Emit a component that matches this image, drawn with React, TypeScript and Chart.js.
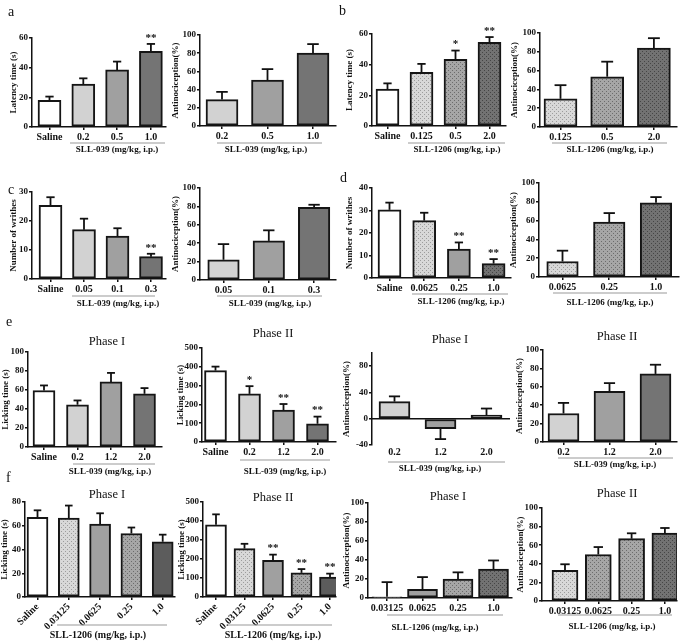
import React, { useEffect, useRef } from "react";
import { Chart, registerables } from "chart.js";
Chart.register(...registerables);

const SERIF = '"Liberation Serif","Times New Roman",Times,serif';

// ---------------- data ----------------
const G039 = "SLL-039 (mg/kg, i.p.)";
const G1206 = "SLL-1206 (mg/kg, i.p.)";
const Y_LAT = "Latency time (s)";
const Y_ANTI = "Antinociception(%)";
const Y_WRI = "Number of writhes";
const Y_LICK = "Licking time (s)";

const a1Labels = ["Saline", "0.2", "0.5", "1.0"];
const a1Values = [18, 29, 38.5, 51];
const a1Errors = [2.5, 3.8, 5.6, 5];
const a1Stars = ["", "", "", "**"];

const a2Labels = ["0.2", "0.5", "1.0"];
const a2Values = [29, 50.5, 80];
const a2Errors = [8.5, 12, 10];

const b1Labels = ["Saline", "0.125", "0.5", "2.0"];
const b1Values = [24, 35, 43.5, 54.5];
const b1Errors = [3.8, 5.5, 5.7, 3.5];
const b1Stars = ["", "", "*", "**"];

const b2Labels = ["0.125", "0.5", "2.0"];
const b2Values = [30, 53.5, 84];
const b2Errors = [14.5, 16, 10.5];

const c1Labels = ["Saline", "0.05", "0.1", "0.3"];
const c1Values = [25.4, 17, 14.8, 7.7];
const c1Errors = [2.8, 3.8, 2.7, 1];
const c1Stars = ["", "", "", "**"];

const c2Labels = ["0.05", "0.1", "0.3"];
const c2Values = [22, 42.5, 79];
const c2Errors = [17, 11.5, 2.8];

const d1Labels = ["Saline", "0.0625", "0.25", "1.0"];
const d1Values = [30.3, 25.5, 12.8, 6.4];
const d1Errors = [3.2, 3.5, 3, 2];
const d1Stars = ["", "", "**", "**"];

const d2Labels = ["0.0625", "0.25", "1.0"];
const d2Values = [16.5, 58.5, 79];
const d2Errors = [11.5, 9.5, 6];

const e1Labels = ["Saline", "0.2", "1.2", "2.0"];
const e1Values = [59.5, 44.5, 68.5, 56];
const e1Errors = [5.3, 4.5, 9.5, 6];

const e2Labels = ["Saline", "0.2", "1.2", "2.0"];
const e2Values = [380, 256, 170, 97];
const e2Errors = [21, 41, 32, 38];
const e2Stars = ["", "*", "**", "**"];

const e3Labels = ["0.2", "1.2", "2.0"];
const e3Values = [26, -15, 5.5];
const e3Errors = [8, 16, 10];

const e4Labels = ["0.2", "1.2", "2.0"];
const e4Values = [31, 55, 74];
const e4Errors = [11.5, 9, 10];

const f1Labels = ["Saline", "0.03125", "0.0625", "0.25", "1.0"];
const f1Values = [67, 66.5, 61.5, 53.5, 46.5];
const f1Errors = [6, 10.5, 9, 5, 6];

const f2Labels = ["Saline", "0.03125", "0.0625", "0.25", "1.0"];
const f2Values = [380, 255, 193, 127, 105];
const f2Errors = [55, 25, 30, 20, 18];
const f2Stars = ["", "", "**", "**", "**"];

const f3Labels = ["0.03125", "0.0625", "0.25", "1.0"];
const f3Values = [1.2, 9, 20, 30.5];
const f3Errors = [15.5, 13, 7, 9];

const f4Labels = ["0.03125", "0.0625", "0.25", "1.0"];
const f4Values = [33, 50, 67, 73];
const f4Errors = [6.5, 8, 5.8, 5.5];

// ---------------- layout / style ----------------
type L = {
  ax: number; rx: number; ty: number; by: number; c0: number; s: number; bw: number;
  ytX: number; ulY: number; ul1: number; ul2: number; gX: number; gY: number; gF: number;
  tX?: number; tY?: number; rot?: number;
};
type P = {
  key: string; labels: string[]; values: number[]; errors: number[]; stars: string[];
  yMin: number; yMax: number; yStep: number; yTitle: string; group: string; title?: string;
  fills: string[]; L: L;
};

const panels: P[] = [
  { key: "a1", labels: a1Labels, values: a1Values, errors: a1Errors, stars: a1Stars, yMin: 0, yMax: 60, yStep: 20, yTitle: Y_LAT, group: G039,
    fills: ["white", "light", "mid", "dark"],
    L: { ax: 32, rx: 166, ty: 38, by: 127, c0: 49.5, s: 33.8, bw: 23, ytX: 14, ulY: 143, ul1: 70, ul2: 165, gX: 117, gY: 150, gF: 9 } },
  { key: "a2", labels: a2Labels, values: a2Values, errors: a2Errors, stars: [], yMin: 0, yMax: 100, yStep: 20, yTitle: Y_ANTI, group: G039,
    fills: ["light", "mid", "dark"],
    L: { ax: 200, rx: 336, ty: 35, by: 126, c0: 222, s: 45.5, bw: 32, ytX: 176, ulY: 143, ul1: 217, ul2: 322, gX: 266, gY: 150, gF: 9 } },
  { key: "b1", labels: b1Labels, values: b1Values, errors: b1Errors, stars: b1Stars, yMin: 0, yMax: 60, yStep: 20, yTitle: Y_LAT, group: G1206,
    fills: ["white", "lightDot", "midDot", "darkDot"],
    L: { ax: 372, rx: 506, ty: 34, by: 126, c0: 387.5, s: 34, bw: 23, ytX: 350, ulY: 143, ul1: 408, ul2: 505, gX: 457, gY: 150, gF: 9 } },
  { key: "b2", labels: b2Labels, values: b2Values, errors: b2Errors, stars: [], yMin: 0, yMax: 100, yStep: 20, yTitle: Y_ANTI, group: G1206,
    fills: ["lightDot", "midDot", "darkDot"],
    L: { ax: 540, rx: 677, ty: 33, by: 127, c0: 560.5, s: 46.7, bw: 33, ytX: 515, ulY: 143, ul1: 552, ul2: 667, gX: 610, gY: 150, gF: 9 } },
  { key: "c1", labels: c1Labels, values: c1Values, errors: c1Errors, stars: c1Stars, yMin: 0, yMax: 30, yStep: 10, yTitle: Y_WRI, group: G039,
    fills: ["white", "light", "mid", "dark"],
    L: { ax: 32, rx: 166, ty: 192, by: 279, c0: 50.5, s: 33.5, bw: 23, ytX: 14, ulY: 296, ul1: 72, ul2: 155, gX: 118, gY: 304, gF: 9 } },
  { key: "c2", labels: c2Labels, values: c2Values, errors: c2Errors, stars: [], yMin: 0, yMax: 100, yStep: 20, yTitle: Y_ANTI, group: G039,
    fills: ["light", "mid", "dark"],
    L: { ax: 200, rx: 336, ty: 188, by: 280, c0: 223.5, s: 45.3, bw: 31.5, ytX: 176, ulY: 296, ul1: 217, ul2: 322, gX: 270, gY: 304, gF: 9 } },
  { key: "d1", labels: d1Labels, values: d1Values, errors: d1Errors, stars: d1Stars, yMin: 0, yMax: 40, yStep: 10, yTitle: Y_WRI, group: G1206,
    fills: ["white", "lightDot", "mid", "darkDot"],
    L: { ax: 372, rx: 511, ty: 188, by: 278, c0: 389.5, s: 34.7, bw: 23, ytX: 350, ulY: 294, ul1: 412, ul2: 508, gX: 461, gY: 302, gF: 9 } },
  { key: "d2", labels: d2Labels, values: d2Values, errors: d2Errors, stars: [], yMin: 0, yMax: 100, yStep: 20, yTitle: Y_ANTI, group: G1206,
    fills: ["lightDot", "midDot", "darkDot"],
    L: { ax: 539, rx: 679, ty: 183, by: 277, c0: 562.5, s: 46.75, bw: 31.5, ytX: 514, ulY: 293, ul1: 553, ul2: 667, gX: 610, gY: 303, gF: 9 } },
  { key: "e1", labels: e1Labels, values: e1Values, errors: e1Errors, stars: [], yMin: 0, yMax: 100, yStep: 20, yTitle: Y_LICK, group: G039, title: "Phase I",
    fills: ["white", "light", "mid", "dark"],
    L: { ax: 28, rx: 162, ty: 352, by: 447, c0: 44, s: 33.5, bw: 22, ytX: 6, ulY: 464, ul1: 73, ul2: 155, gX: 110, gY: 472, gF: 9, tX: 107, tY: 342 } },
  { key: "e2", labels: e2Labels, values: e2Values, errors: e2Errors, stars: e2Stars, yMin: 0, yMax: 500, yStep: 100, yTitle: Y_LICK, group: G039, title: "Phase II",
    fills: ["white", "light", "mid", "dark"],
    L: { ax: 202, rx: 336, ty: 348, by: 442, c0: 215.5, s: 34, bw: 22, ytX: 181, ulY: 460, ul1: 240, ul2: 330, gX: 285, gY: 472, gF: 9, tX: 273, tY: 334 } },
  { key: "e3", labels: e3Labels, values: e3Values, errors: e3Errors, stars: [], yMin: -40, yMax: 100, yStep: 20, yTitle: Y_ANTI, group: G039, title: "Phase I",
    fills: ["light", "mid", "dark"],
    L: { ax: 372, rx: 510, ty: 353, by: 445, c0: 394.5, s: 46, bw: 31, ytX: 347, ulY: 462, ul1: 388, ul2: 505, gX: 440, gY: 469, gF: 9, tX: 450, tY: 340 } },
  { key: "e4", labels: e4Labels, values: e4Values, errors: e4Errors, stars: [], yMin: 0, yMax: 100, yStep: 20, yTitle: Y_ANTI, group: G039, title: "Phase II",
    fills: ["light", "mid", "dark"],
    L: { ax: 543, rx: 677, ty: 350, by: 442, c0: 563.5, s: 46, bw: 31, ytX: 520, ulY: 458, ul1: 558, ul2: 673, gX: 615, gY: 465, gF: 9, tX: 617, tY: 337 } },
  { key: "f1", labels: f1Labels, values: f1Values, errors: f1Errors, stars: [], yMin: 0, yMax: 80, yStep: 20, yTitle: Y_LICK, group: G1206, title: "Phase I",
    fills: ["white", "lightDot", "mid", "midDot", "darker"],
    L: { ax: 25, rx: 175, ty: 502, by: 597, c0: 37.5, s: 31.3, bw: 21, ytX: 5, ulY: 625, ul1: 57, ul2: 167, gX: 98, gY: 635, gF: 10, tX: 107, tY: 495, rot: 45 } },
  { key: "f2", labels: f2Labels, values: f2Values, errors: f2Errors, stars: f2Stars, yMin: 0, yMax: 500, yStep: 100, yTitle: Y_LICK, group: G1206, title: "Phase II",
    fills: ["white", "lightDot", "mid", "midDot", "darker"],
    L: { ax: 203, rx: 336, ty: 502, by: 597, c0: 216, s: 28.5, bw: 21, ytX: 182, ulY: 625, ul1: 227, ul2: 332, gX: 273, gY: 635, gF: 10, tX: 273, tY: 498, rot: 45 } },
  { key: "f3", labels: f3Labels, values: f3Values, errors: f3Errors, stars: [], yMin: 0, yMax: 100, yStep: 20, yTitle: Y_ANTI, group: G1206, title: "Phase I",
    fills: ["lightDot", "mid", "midDot", "darkDot"],
    L: { ax: 368, rx: 512, ty: 503, by: 598, c0: 387, s: 35.5, bw: 30, ytX: 347, ulY: 615, ul1: 387, ul2: 503, gX: 435, gY: 628, gF: 9, tX: 448, tY: 497 } },
  { key: "f4", labels: f4Labels, values: f4Values, errors: f4Errors, stars: [], yMin: 0, yMax: 100, yStep: 20, yTitle: Y_ANTI, group: G1206, title: "Phase II",
    fills: ["lightDot", "midDot", "midDot", "darkDot"],
    L: { ax: 542, rx: 677, ty: 508, by: 601, c0: 565, s: 33.3, bw: 26, ytX: 521, ulY: 615, ul1: 558, ul2: 672, gX: 612, gY: 627, gF: 9, tX: 617, tY: 494 } },
];

const letters = [
  { t: "a", x: 8, y: 12 },
  { t: "b", x: 339, y: 11 },
  { t: "c", x: 8, y: 190 },
  { t: "d", x: 340, y: 178 },
  { t: "e", x: 6, y: 322 },
  { t: "f", x: 6, y: 478 },
];

function dotPattern(base: string, dot: string): any {
  const c = document.createElement("canvas");
  c.width = 4; c.height = 4;
  const g = c.getContext("2d")!;
  g.fillStyle = base; g.fillRect(0, 0, 4, 4);
  g.fillStyle = dot; g.fillRect(0, 0, 1, 1); g.fillRect(2, 2, 1, 1);
  return g.createPattern(c, "repeat");
}

let fillCache: Record<string, any> | null = null;
function getFills() {
  if (!fillCache) {
    fillCache = {
      white: "#ffffff",
      light: "#d2d2d2",
      mid: "#a0a0a0",
      dark: "#747474",
      darker: "#5c5c5c",
      lightDot: dotPattern("#d8d8d8", "#9c9c9c"),
      midDot: dotPattern("#a6a6a6", "#6c6c6c"),
      darkDot: dotPattern("#727272", "#454545"),
    };
  }
  return fillCache;
}

function boxOf(p: P) {
  const L = p.L;
  const top = Math.min(L.ty, L.tY ?? L.ty) - 22;
  return { left: L.ax - 38, top, right: Math.min(L.rx + 8, 685), bottom: Math.min(L.gY + 9, 642) };
}

function Panel({ p }: { p: P }) {
  const ref = useRef<HTMLCanvasElement>(null);
  const box = boxOf(p);
  const W = box.right - box.left;
  const H = box.bottom - box.top;
  useEffect(() => {
    const L = p.L;
    const fills = getFills();
    const xmin = -(L.c0 - L.ax) / L.s;
    const xmax = xmin + (L.rx - L.ax) / L.s;
    const neg = p.yMin < 0;
    const overlay = {
      id: "overlay" + p.key,
      afterDatasetsDraw(chart: any) {
        const ctx = chart.ctx;
        const xs = chart.scales.x, ys = chart.scales.y;
        ctx.save();
        ctx.strokeStyle = "#111";
        ctx.fillStyle = "#111";
        if (neg) {
          const y0 = ys.getPixelForValue(0);
          ctx.lineWidth = 1.5;
          ctx.beginPath(); ctx.moveTo(xs.left, y0); ctx.lineTo(xs.right, y0); ctx.stroke();
        }
        const cap = L.bw * 0.36;
        p.values.forEach((v, i) => {
          const e = p.errors[i];
          const x = xs.getPixelForValue(i);
          const sgn = v < 0 ? -1 : 1;
          const y1 = ys.getPixelForValue(v);
          const y2 = ys.getPixelForValue(v + sgn * e);
          ctx.lineWidth = 1.8;
          ctx.beginPath(); ctx.moveTo(x, y1); ctx.lineTo(x, y2); ctx.stroke();
          ctx.beginPath(); ctx.moveTo(x - cap / 2, y2); ctx.lineTo(x + cap / 2, y2); ctx.stroke();
          const st = p.stars[i];
          if (st) {
            ctx.font = "bold 11px " + SERIF;
            ctx.textAlign = "center";
            ctx.textBaseline = "middle";
            ctx.fillText(st, x, y2 - 6);
          }
        });
        ctx.restore();
      },
      afterDraw(chart: any) {
        const ctx = chart.ctx;
        const ox = box.left, oy = box.top;
        ctx.save();
        ctx.fillStyle = "#111";
        ctx.save();
        ctx.translate(L.ytX - ox, (L.ty + L.by) / 2 - oy);
        ctx.rotate(-Math.PI / 2);
        ctx.font = "bold 9px " + SERIF;
        ctx.textAlign = "center";
        ctx.textBaseline = "middle";
        ctx.fillText(p.yTitle, 0, 0);
        ctx.restore();
        ctx.strokeStyle = "#9a9a9a";
        ctx.lineWidth = 1.2;
        ctx.beginPath(); ctx.moveTo(L.ul1 - ox, L.ulY - oy); ctx.lineTo(L.ul2 - ox, L.ulY - oy); ctx.stroke();
        ctx.font = `bold ${L.gF}px ` + SERIF;
        ctx.textAlign = "center";
        ctx.textBaseline = "middle";
        ctx.fillText(p.group, L.gX - ox, L.gY - oy);
        if (p.title && L.tX != null && L.tY != null) {
          ctx.font = "12.5px " + SERIF;
          ctx.fillText(p.title, L.tX - ox, L.tY - oy);
        }
        ctx.restore();
      },
    };
    const chart = new Chart(ref.current!, {
      type: "bar",
      data: {
        datasets: [
          {
            data: p.values.map((v, i) => ({ x: i, y: v })),
            backgroundColor: p.fills.map((f) => fills[f]),
            borderColor: "#151515",
            borderWidth: 2,
            borderSkipped: false,
            barThickness: L.bw,
          } as any,
        ],
      },
      options: {
        animation: false,
        responsive: false,
        events: [],
        layout: { padding: { left: 0, top: L.ty - box.top, right: box.right - L.rx, bottom: 0 } },
        plugins: { legend: { display: false }, tooltip: { enabled: false }, title: { display: false } },
        scales: {
          x: {
            type: "linear",
            offset: false,
            min: xmin,
            max: xmax,
            afterBuildTicks: (s: any) => {
              s.ticks = p.labels.map((_, i) => ({ value: i }));
            },
            afterFit: (s: any) => {
              s.height = box.bottom - L.by;
            },
            ticks: {
              autoSkip: false,
              callback: (v: any) => p.labels[Math.round(Number(v))] ?? "",
              font: { family: SERIF, weight: "bold", size: 10 },
              color: "#111",
              padding: 1,
              maxRotation: L.rot ?? 0,
              minRotation: L.rot ?? 0,
            },
            grid: { offset: false, drawOnChartArea: false, drawTicks: !neg, tickLength: 3, color: "#111", lineWidth: 1.5 },
            border: { display: !neg, color: "#111", width: 1.5 },
          },
          y: {
            min: p.yMin,
            max: p.yMax,
            afterFit: (s: any) => {
              s.width = L.ax - box.left;
            },
            ticks: {
              stepSize: p.yStep,
              font: { family: SERIF, weight: "bold", size: 9 },
              color: "#111",
              padding: 1,
            },
            grid: { drawOnChartArea: false, drawTicks: true, tickLength: 3, color: "#111", lineWidth: 1.5 },
            border: { display: true, color: "#111", width: 1.5 },
          },
        },
      } as any,
      plugins: [overlay],
    });
    return () => chart.destroy();
  }, []);
  return (
    <canvas
      ref={ref}
      width={W}
      height={H}
      style={{ position: "absolute", left: box.left, top: box.top, width: W, height: H }}
    />
  );
}

export default function App() {
  return (
    <div
      style={{
        position: "fixed",
        left: 0,
        top: 0,
        width: 685,
        height: 642,
        overflow: "hidden",
        background: "#ffffff",
      }}
    >
      {panels.map((p) => (
        <Panel key={p.key} p={p} />
      ))}
      {letters.map((l) => (
        <div
          key={l.t}
          style={{
            position: "absolute",
            left: l.x,
            top: l.y - 8,
            fontFamily: SERIF,
            fontSize: 14,
            lineHeight: "16px",
            color: "#111",
          }}
        >
          {l.t}
        </div>
      ))}
    </div>
  );
}
